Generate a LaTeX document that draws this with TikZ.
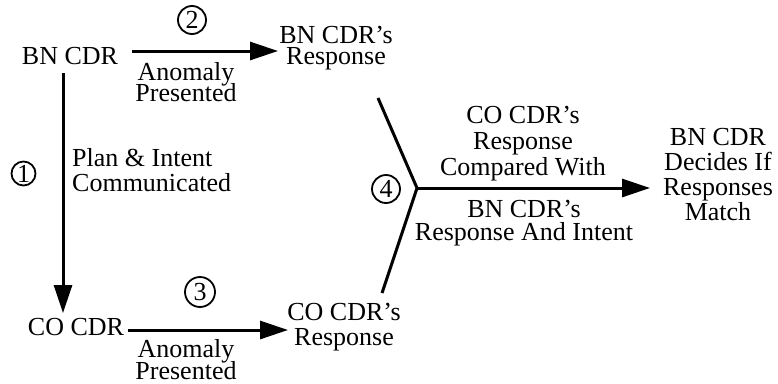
\documentclass[tikz,border=0pt]{standalone}
\usepackage{fontspec}
\setmainfont{Liberation Serif}
\usetikzlibrary{arrows.meta}
\newcommand\lblfont[1]{\fontsize{26}{#1}\selectfont\lineskiplimit=-100pt\relax}
\begin{document}
\begin{tikzpicture}[x=1pt,y=-1pt,
  lbl/.style={inner sep=0pt,anchor=base,font=\lblfont{25},align=center},
  num/.style={draw,circle,line width=1.8pt,inner sep=0pt,font=\fontsize{26}{25}\selectfont},
  arr/.style={line width=3pt,-{Triangle[length=28pt,width=18pt]}},
  seg/.style={line width=3pt}]
\useasboundingbox (0,0) rectangle (778,383);
% text nodes (anchor = baseline of the last line)
\node[lbl] (bn) at (70,64) {BN CDR};
\node[lbl] (co) at (76,335) {CO CDR};
\node[lbl,font=\lblfont{21}] (bnr) at (336,64) {BN CDR's\\Response};
\node[lbl] (cor) at (344,345) {CO CDR's\\Response};
\node[lbl,font=\lblfont{21}] (an1) at (186,101) {Anomaly\\Presented};
\node[lbl,font=\lblfont{22}] (an2) at (186,379) {Anomaly\\Presented};
\node[lbl,anchor=base west,align=left] (plan) at (72,191) {Plan \& Intent\\Communicated};
\node[lbl,font=\lblfont{26}] (cmp) at (523,175) {CO CDR's\\Response\\Compared With};
\node[lbl,font=\lblfont{23}] (bnri) at (524,240) {BN CDR's\\Response And Intent};
\node[lbl] (dec) at (718,220) {BN CDR\\Decides If\\Responses\\Match};
% circled numbers
\node[num,minimum size=24pt] (c1) at (23.5,173.5) {1};
\node[num,minimum size=28pt] (c2) at (192,20) {2};
\node[num,minimum size=30pt] (c3) at (200,292) {3};
\node[num,minimum size=28pt] (c4) at (386,189) {4};
% connector end points
\coordinate (a2s) at (132,51);  \coordinate (a2e) at (278,51);
\coordinate (a1s) at (63,73);   \coordinate (a1e) at (63,313);
\coordinate (a3s) at (128,330); \coordinate (a3e) at (288,330);
\coordinate (yu) at (378,98);   \coordinate (yl) at (382,293);
\coordinate (yj) at (417,188);  \coordinate (a4e) at (650,188);
% connectors
\draw[arr] (a2s) -- (a2e);
\draw[arr] (a1s) -- (a1e);
\draw[arr] (a3s) -- (a3e);
\draw[seg,line join=miter] (yu) -- (yj) -- (yl);
\draw[arr] (yj) -- (a4e);
\end{tikzpicture}
\end{document}
